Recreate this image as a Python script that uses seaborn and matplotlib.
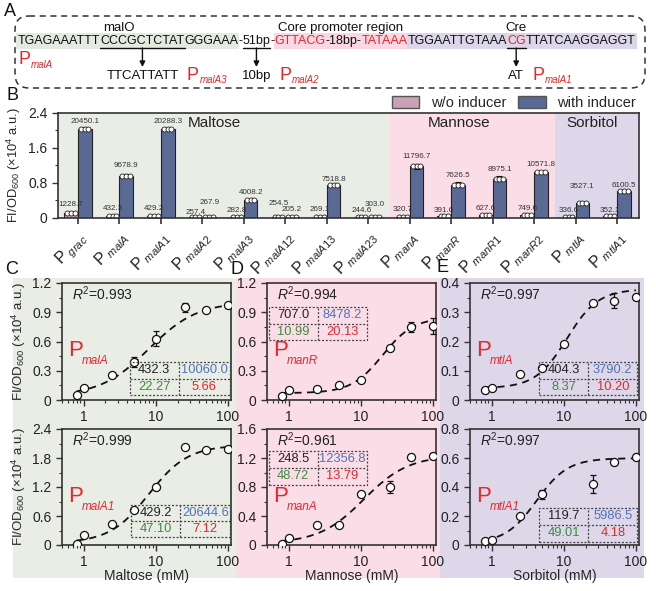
import numpy as np
import pandas as pd
import matplotlib
matplotlib.use("Agg")
import matplotlib.pyplot as plt
import seaborn as sns
from matplotlib.patches import Rectangle, FancyBboxPatch, Patch
from matplotlib.ticker import MultipleLocator, FixedLocator, LogLocator, NullFormatter

# ---------------- data ----------------
# Panel A (sequence pieces)
seq_segs = [("TGAGAAATTT", "k"), ("CCCGCTCTAT", "k"), ("GGGAAA", "k"), ("-", "k"),
            ("51bp", "k"), ("-", "k"), ("GTTACG", "r"), ("-18bp-", "k"),
            ("TATAAA", "r"), ("TGGAATTGTAAA", "k"), ("CG", "r"), ("TTATCAAGGAGGT", "k")]
mut_texts = ["TTCATTATT", "10bp", "AT"]
mut_names = ["malA3", "malA2", "malA1"]

# Panel B
promoters = ["grac", "malA", "malA1", "malA2", "malA3", "malA12", "malA13", "malA23",
             "manA", "manR", "manR1", "manR2", "mtlA", "mtlA1"]
wo_vals = [1228.7, 432.3, 429.2, 257.4, 282.8, 254.5, 269.1, 244.6,
           320.7, 391.6, 627.6, 749.6, 336.6, 352.1]
with_vals = [20450.1, 9678.9, 20288.3, 267.9, 4008.2, 205.2, 7518.8, 303.0,
             11796.7, 7626.5, 8975.1, 10571.8, 3527.1, 6100.5]
wo_sd = [200, 50, 50, 30, 40, 30, 30, 30, 30, 40, 60, 90, 40, 40]
with_sd = [300, 400, 100, 30, 150, 30, 150, 30, 600, 600, 600, 100, 150, 100]
groups = ["Maltose", "Mannose", "Sorbitol"]

# Panels C-E
conc = [0.8, 1, 2.5, 5, 10, 25, 50, 100]
conc_mtlA1 = [0.8, 1, 2.5, 5, 25, 50, 100]
malA_y = [0.05, 0.12, 0.26, 0.39, 0.63, 0.95, 0.92, 0.97]
malA_sd = [0.01, 0.01, 0.02, 0.05, 0.08, 0.05, 0.02, 0.03]
malA1_y = [0.03, 0.20, 0.43, 0.72, 1.20, 2.02, 1.97, 1.99]
malA1_sd = [0.02, 0.03, 0.03, 0.04, 0.06, 0.03, 0.03, 0.03]
manR_y = [0.04, 0.10, 0.11, 0.15, 0.21, 0.53, 0.75, 0.76]
manR_sd = [0.01, 0.01, 0.01, 0.01, 0.01, 0.02, 0.05, 0.08]
manA_y = [0.02, 0.10, 0.27, 0.28, 0.70, 0.80, 1.22, 1.23]
manA_sd = [0.01, 0.03, 0.03, 0.02, 0.03, 0.08, 0.03, 0.04]
mtlA_y = [0.035, 0.040, 0.090, 0.110, 0.190, 0.330, 0.340, 0.352]
mtlA_sd = [0.01, 0.006, 0.005, 0.006, 0.005, 0.005, 0.025, 0.01]
mtlA1_y = [0.03, 0.035, 0.20, 0.35, 0.42, 0.57, 0.61]
mtlA1_sd = [0.01, 0.01, 0.01, 0.03, 0.06, 0.015, 0.015]

# fitted parameters shown in boxes: basal, maximal, fold, EC50
malA_par = [432.3, 10060.0, 22.27, 5.66]
malA1_par = [429.2, 20644.6, 47.10, 7.12]
manR_par = [707.0, 8478.2, 10.99, 20.13]
manA_par = [248.5, 12356.8, 48.72, 13.79]
mtlA_par = [404.3, 3790.2, 8.37, 10.20]
mtlA1_par = [119.7, 5986.5, 49.01, 4.18]
r2_vals = [0.993, 0.999, 0.994, 0.961, 0.997, 0.997]
# Hill curve shape (half point, coefficient)
fit_half = [8.0, 8.0, 20.0, 11.0, 11.0, 4.18]
fit_n = [1.3, 1.6, 2.0, 1.4, 2.0, 2.0]

# ---------------- style ----------------
sns.set_theme(style="ticks")
plt.rcParams["font.family"] = ["Liberation Sans", "DejaVu Sans"]
plt.rcParams["mathtext.fontset"] = "custom"
plt.rcParams["mathtext.rm"] = "Liberation Sans"
plt.rcParams["mathtext.it"] = "Liberation Sans:italic"
plt.rcParams["mathtext.bf"] = "Liberation Sans:bold"
plt.rcParams["axes.edgecolor"] = "#333333"
plt.rcParams["axes.linewidth"] = 1.2
plt.rcParams["xtick.color"] = "#333333"
plt.rcParams["ytick.color"] = "#333333"
plt.rcParams["xtick.labelcolor"] = "#222222"
plt.rcParams["ytick.labelcolor"] = "#222222"

RED = "#e8262a"
BLUE_T = "#4f74b8"
GREEN_T = "#3c8c3c"
MALT_BG = "#e9ede5"
MAN_BG = "#fbdde8"
SOR_BG = "#ddd7e9"
WO_C = "#c9a0b6"
WI_C = "#5b6a95"

W, H = 656, 591
fig = plt.figure(figsize=(W / 100, H / 100), dpi=100)
fig.patch.set_facecolor("white")


def fx(px):
    return px / W


def fh(py0, py1):
    # figure rect from top pixel py0 to bottom pixel py1
    return 1 - py1 / H, (py1 - py0) / H


# overlay axes in pixel coordinates (for panel A and backgrounds)
axA = fig.add_axes([0, 0, 1, 1], facecolor="none", zorder=0)
axA.set_xlim(0, W)
axA.set_ylim(H, 0)
axA.axis("off")

# backgrounds for C, D, E
for x0, x1, col in [(13, 236, MALT_BG), (236, 440, MAN_BG), (440, 644, SOR_BG)]:
    axA.add_patch(Rectangle((x0, 278), x1 - x0, 300, facecolor=col, edgecolor="none", zorder=0))

# ---------------- Panel A ----------------
renderer = fig.canvas.get_renderer()
seq_y = 41


def place_seq(fs):
    arts = []
    x = 18
    for s, c in seq_segs:
        t = axA.text(x, seq_y, s, fontsize=fs, color=(RED if c == "r" else "#111111"),
                     va="center", ha="left", zorder=3)
        w = t.get_window_extent(renderer).width
        arts.append((t, x, x + w))
        x += w
    return arts, x


arts, xend = place_seq(10)
fs_seq = 10 * (640 - 18) / (xend - 18)
for t, _, _ in arts:
    t.remove()
arts, xend = place_seq(fs_seq)

# coloured sequence backgrounds
green_x0, green_x1 = arts[0][1] - 2, arts[2][2]
pink_x0, pink_x1 = arts[6][1], arts[8][2]
lav_x0, lav_x1 = arts[9][1], arts[11][2] + 2
for a, b, col in [(green_x0, green_x1, "#e3eadf"), (pink_x0, pink_x1, "#fbd7e3"), (lav_x0, lav_x1, "#dcd6ea")]:
    axA.add_patch(Rectangle((a, seq_y - 8), b - a, 16, facecolor=col, edgecolor="none", zorder=1))

# labels above
axA.text(arts[1][1] + 3, 28, "malO", fontsize=9.5, ha="left", va="center", color="#111111")
axA.text((pink_x0 + pink_x1) / 2, 28, "Core promoter region", fontsize=9.5, ha="center", va="center", color="#111111")
axA.text((arts[10][1] + arts[10][2]) / 2, 28, "Cre", fontsize=9.5, ha="center", va="center", color="#111111")

# underlines, arrows and mutated texts
row2_y = 76
for (seg_idx, mtxt, mname) in zip([1, 4, 10], mut_texts, mut_names):
    a, b = arts[seg_idx][1], arts[seg_idx][2]
    axA.plot([a, b], [seq_y + 7, seq_y + 7], color="#111111", lw=1.0, zorder=3)
    cx = (a + b) / 2
    axA.annotate("", xy=(cx, row2_y - 9), xytext=(cx, seq_y + 7),
                 arrowprops=dict(arrowstyle="-|>", color="#111111", lw=1.0, mutation_scale=8,
                                 shrinkA=0, shrinkB=0), zorder=3)
    t = axA.text(cx, row2_y, mtxt, fontsize=9.5, ha="center", va="center", color="#111111")
    tb = t.get_window_extent(renderer)
    px = tb.x1 + 8
    tp = axA.text(px, row2_y - 1, "P", fontsize=13, color=RED, ha="left", va="center")
    pw = tp.get_window_extent(renderer).width
    axA.text(px + pw + 1, row2_y + 4, mname, fontsize=7, style="italic", color=RED, ha="left", va="center")

tp = axA.text(18, 60, "P", fontsize=13, color=RED, ha="left", va="center")
pw = tp.get_window_extent(renderer).width
axA.text(18 + pw + 1, 65, "malA", fontsize=7, style="italic", color=RED, ha="left", va="center")

axA.add_patch(FancyBboxPatch((15, 16), 630, 72, boxstyle="round,pad=0,rounding_size=14",
                             fill=False, linestyle=(0, (4, 3)), lw=1.1, edgecolor="#333333", zorder=2))

for lab, x, y in [("A", 10, 12), ("B", 12, 95), ("C", 12, 270), ("D", 237, 270), ("E", 443, 267)]:
    axA.text(x, y, lab, fontsize=13, ha="center", va="center", color="#111111")

# ---------------- Panel B ----------------
b0, bh = fh(113, 218)
axB = fig.add_axes([fx(58), b0, fx(639) - fx(58), bh], zorder=2)
axB.set_facecolor("none")
n = len(promoters)
xlo, xhi = -0.48, n - 0.47
axB.axvspan(xlo, 7.5, color=MALT_BG, zorder=0, lw=0)
axB.axvspan(7.5, 11.5, color=MAN_BG, zorder=0, lw=0)
axB.axvspan(11.5, xhi, color=SOR_BG, zorder=0, lw=0)

dfB = pd.DataFrame({
    "promoter": promoters * 2,
    "condition": ["w/o inducer"] * n + ["with inducer"] * n,
    "value": [v / 1e4 for v in wo_vals] + [v / 1e4 for v in with_vals],
})
sns.barplot(data=dfB, x="promoter", y="value", hue="condition", order=promoters,
            hue_order=["w/o inducer", "with inducer"], palette=[WO_C, WI_C],
            width=0.66, edgecolor="#222222", linewidth=0.8, errorbar=None,
            ax=axB, legend=False, zorder=2, saturation=1)

idx = np.arange(n)
off = 0.165
label_y_wo = [0.315, 0.215, 0.215, 0.13, 0.16, 0.33, 0.20, 0.16, 0.20, 0.18, 0.21, 0.21, 0.18, 0.18]
label_y_wi = [2.215, 1.19, 2.215, 0.35, 0.585, 0.19, 0.885, 0.31, 1.41, 0.98, 1.10, 1.23, 0.73, 0.75]
for xs, vals, sds, ly in [(idx - off, wo_vals, wo_sd, label_y_wo), (idx + off, with_vals, with_sd, label_y_wi)]:
    v = np.array(vals) / 1e4
    s = np.array(sds) / 1e4
    axB.errorbar(xs, v, yerr=s, fmt="none", ecolor="#111111", elinewidth=0.8, capsize=2.5, capthick=0.8, zorder=3)
    for dx in (-0.09, 0.0, 0.09):
        axB.scatter(xs + dx, v, s=13, facecolor="white", edgecolor="#222222", linewidth=0.6, zorder=4)
    for xi, vi, yi in zip(xs, vals, ly):
        axB.text(xi, yi, f"{vi:.1f}", ha="center", va="center", fontsize=5.8, color="#333333", zorder=5)

axB.set_xlim(xlo, xhi)
axB.set_ylim(0, 2.4)
axB.yaxis.set_major_locator(FixedLocator([0, 0.8, 1.6, 2.4]))
axB.set_yticklabels(["0", "0.8", "1.6", "2.4"], fontsize=10)
axB.yaxis.set_minor_locator(MultipleLocator(0.4))
axB.tick_params(axis="y", which="major", length=4, width=1)
axB.tick_params(axis="y", which="minor", length=2, width=0.8)
axB.tick_params(axis="x", which="major", length=4, width=1.2)
axB.set_xticks(idx)
axB.set_xticklabels([r"P$_{\ \mathit{" + p + "}}$" for p in promoters], rotation=45,
                    ha="right", rotation_mode="anchor", fontsize=11.5)
axB.set_xlabel("")
axB.set_ylabel(r"FI/OD$_{600}$ (×10$^{4}$ a.u.)", fontsize=9.3, labelpad=4)
for sp in axB.spines.values():
    sp.set_visible(True)
    sp.set_zorder(6)
for g, gx in zip(groups, [3.3, 9.18, 12.4]):
    axB.text(gx, 0.9, g, transform=axB.get_xaxis_transform(), fontsize=11, ha="center",
             va="center", color="#222222", zorder=5)
handles = [Patch(facecolor=WO_C, edgecolor="#555555", label="w/o inducer"),
           Patch(facecolor=WI_C, edgecolor="#555555", label="with inducer")]
axB.legend(handles=handles, loc="lower right", bbox_to_anchor=(1.0, 1.0), ncol=2, frameon=False,
           fontsize=10.5, handlelength=1.9, handleheight=0.8, columnspacing=0.8,
           handletextpad=0.8, borderaxespad=0.1, borderpad=0.1)

# ---------------- Panels C-E ----------------
cols_px = [(62, 231), (267, 436), (470, 639)]
rows_px = [(283, 400), (429, 545)]

panels = [
    # col, row, name, x, y, sd, params, ymax, ystep, table box
    (0, 0, "malA", conc, malA_y, malA_sd, malA_par, 1.2, 0.3, (0.40, 0.995, 0.04, 0.325, 0.69)),
    (0, 1, "malA1", conc, malA1_y, malA1_sd, malA1_par, 2.4, 0.6, (0.41, 0.995, 0.07, 0.345, 0.70)),
    (1, 0, "manR", conc, manR_y, manR_sd, manR_par, 1.2, 0.3, (0.01, 0.59, 0.51, 0.795, 0.30)),
    (1, 1, "manA", conc, manA_y, manA_sd, manA_par, 1.6, 0.4, (0.01, 0.59, 0.52, 0.81, 0.30)),
    (2, 0, "mtlA", conc, mtlA_y, mtlA_sd, mtlA_par, 0.4, 0.1, (0.41, 0.99, 0.04, 0.325, 0.70)),
    (2, 1, "mtlA1", conc_mtlA1, mtlA1_y, mtlA1_sd, mtlA1_par, 0.8, 0.2, (0.41, 0.99, 0.03, 0.32, 0.70)),
]
xlabels = ["Maltose (mM)", "Mannose (mM)", "Sorbitol (mM)"]

for k, (ci, ri, name, xv, yv, sdv, par, ymax, ystep, box) in enumerate(panels):
    l, r = cols_px[ci]
    t0, t1 = rows_px[ri]
    bb, hh = fh(t0, t1)
    ax = fig.add_axes([fx(l), bb, fx(r) - fx(l), hh], zorder=2)
    ax.set_facecolor("none")
    ax.set_xscale("log")

    bottom, top = par[0] / 1e4, par[1] / 1e4
    K, nh = fit_half[k], fit_n[k]
    xs = np.logspace(np.log10(0.8), 2, 200)
    ys = bottom + (top - bottom) * xs ** nh / (K ** nh + xs ** nh)
    sns.lineplot(x=xs, y=ys, ax=ax, color="#111111", lw=1.3, linestyle=(0, (4, 3)), zorder=2)

    ax.errorbar(xv, yv, yerr=sdv, fmt="none", ecolor="#111111", elinewidth=0.9, capsize=2.5,
                capthick=0.9, zorder=3)
    sns.scatterplot(x=xv, y=yv, ax=ax, color="white", edgecolor="#111111", s=34, linewidth=0.9,
                    zorder=4, legend=False)

    ax.set_xlim(0.5, 110)
    ax.set_ylim(0, ymax)
    ax.set_xticks([1, 10, 100])
    ax.set_xticklabels(["1", "10", "100"], fontsize=10)
    ax.xaxis.set_minor_locator(LogLocator(base=10, subs=np.arange(2, 10)))
    ax.xaxis.set_minor_formatter(NullFormatter())
    yt = np.round(np.arange(0, ymax + 1e-9, ystep), 2)
    ax.yaxis.set_major_locator(FixedLocator(yt))
    ax.set_yticklabels(["0" if v == 0 else f"{v:g}" for v in yt], fontsize=10)
    ax.yaxis.set_minor_locator(MultipleLocator(ystep / 2))
    ax.tick_params(which="major", length=4, width=1)
    ax.tick_params(which="minor", length=2, width=0.8)
    for sp in ax.spines.values():
        sp.set_visible(True)

    if ci == 0:
        ax.set_ylabel(r"FI/OD$_{600}$ (×10$^{4}$ a.u.)", fontsize=9.5, labelpad=3)
    if ri == 1:
        ax.set_xlabel(xlabels[ci], fontsize=10, labelpad=0)

    ax.text(0.06, 0.91, rf"$R^2$=" + f"{r2_vals[k]:.3f}", transform=ax.transAxes, fontsize=10,
            va="center", ha="left", color="#222222")
    ax.text(0.035, 0.42, "P", transform=ax.transAxes, fontsize=16, color=RED, va="center", ha="left")
    ax.text(0.115, 0.33, name, transform=ax.transAxes, fontsize=8.5, color=RED, style="italic",
            va="center", ha="left")

    x0, x1, y0, y1, xm = box
    ym = (y0 + y1) / 2
    dkw = dict(color="#444444", lw=0.9, linestyle=(0, (1.6, 1.4)), transform=ax.transAxes, zorder=5)
    ax.add_patch(Rectangle((x0, y0), x1 - x0, y1 - y0, fill=False, edgecolor="#444444", lw=0.9,
                           linestyle=(0, (1.6, 1.4)), transform=ax.transAxes, zorder=5))
    ax.plot([xm, xm], [y0, y1], **dkw)
    ax.plot([x0, x1], [ym, ym], **dkw)
    tk = dict(transform=ax.transAxes, fontsize=9.3, ha="center", va="center", zorder=6)
    ax.text((x0 + xm) / 2, (ym + y1) / 2, f"{par[0]:.1f}", color="#222222", **tk)
    ax.text((xm + x1) / 2, (ym + y1) / 2, f"{par[1]:.1f}", color=BLUE_T, **tk)
    ax.text((x0 + xm) / 2, (y0 + ym) / 2, f"{par[2]:.2f}", color=GREEN_T, **tk)
    ax.text((xm + x1) / 2, (y0 + ym) / 2, f"{par[3]:.2f}", color=RED, **tk)

fig.savefig("out.png", dpi=100, facecolor="white")
